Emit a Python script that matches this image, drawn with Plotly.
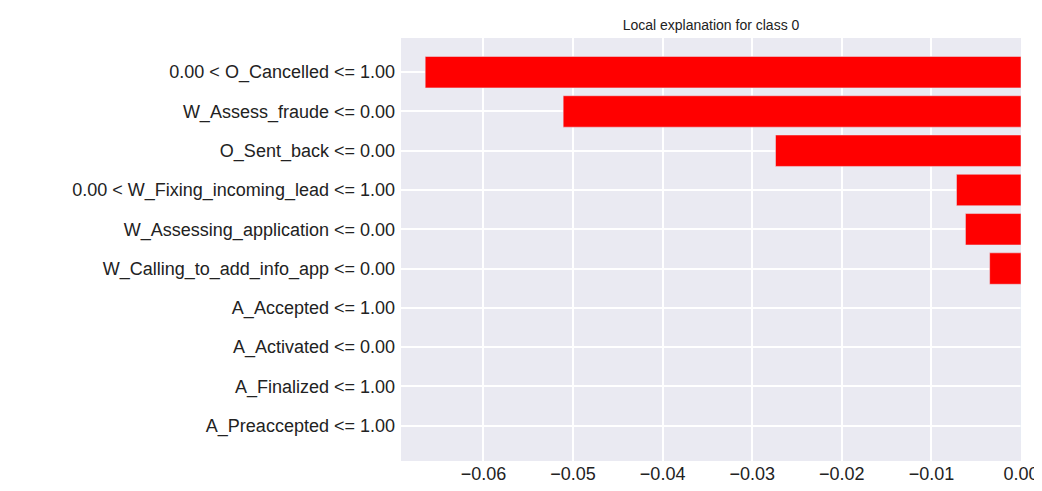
import plotly.graph_objects as go

features = ["0.00 < O_Cancelled <= 1.00", "W_Assess_fraude <= 0.00", "O_Sent_back <= 0.00",
            "0.00 < W_Fixing_incoming_lead <= 1.00", "W_Assessing_application <= 0.00",
            "W_Calling_to_add_info_app <= 0.00", "A_Accepted <= 1.00", "A_Activated <= 0.00",
            "A_Finalized <= 1.00", "A_Preaccepted <= 1.00"]
weights = [-0.0665, -0.0511, -0.0274, -0.0072, -0.0062, -0.0035, 0.0, 0.0, 0.0, 0.0]
ticks = [-0.06, -0.05, -0.04, -0.03, -0.02, -0.01, 0.0]
tick_labels = ["\u22120.06", "\u22120.05", "\u22120.04", "\u22120.03", "\u22120.02", "\u22120.01", "0.00"]

fig = go.Figure(go.Bar(x=weights, y=features, orientation="h", marker_color="red", width=0.8))
fig.update_layout(
    width=1042, height=491, plot_bgcolor="#EAEAF2", paper_bgcolor="white",
    title=dict(text="Local explanation for class 0", x=0.5, xref="paper", xanchor="center",
               y=0.975, yanchor="top",
               font=dict(size=14, color="#222", family="Liberation Sans")),
    margin=dict(l=393, r=29, t=30, b=38),
    font=dict(family="Liberation Sans", size=18, color="#222"),
    showlegend=False,
)
fig.update_xaxes(range=[-0.0692, 0], tickvals=ticks, ticktext=tick_labels, gridcolor="white",
                 gridwidth=1.5, zeroline=False, showline=False)
fig.update_yaxes(range=[9.9, -0.87], gridcolor="white", gridwidth=1.5, ticksuffix=" ")
fig.write_html("out.html")
